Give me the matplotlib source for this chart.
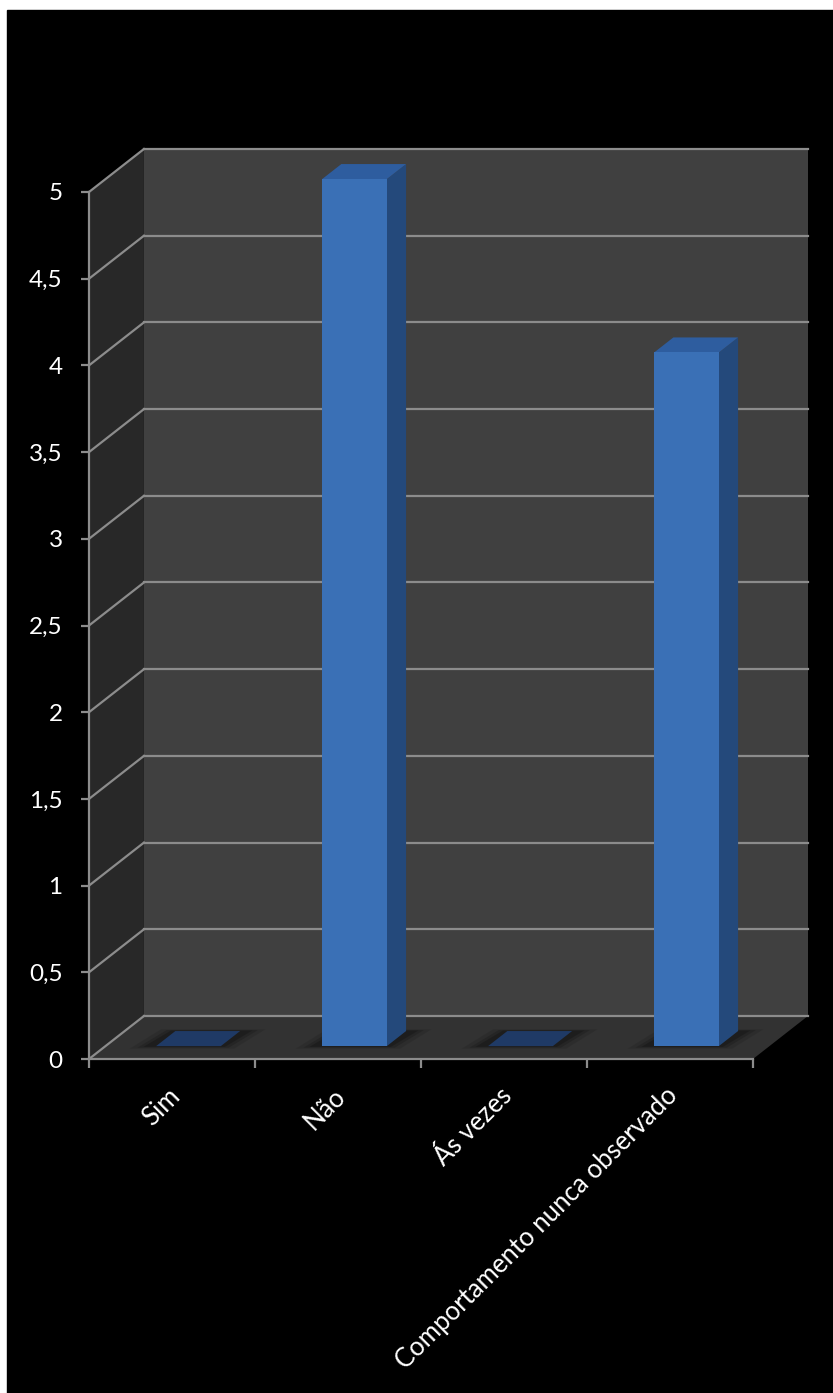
"""3D-style column chart (Excel look) drawn with plain matplotlib patches."""
import matplotlib
matplotlib.use('Agg')
import matplotlib.pyplot as plt
from matplotlib.patches import Polygon, Rectangle
from matplotlib.transforms import offset_copy

plt.rcParams['font.family'] = ['Lato', 'DejaVu Sans']

categories = ['Sim', 'Não', 'Ás vezes', 'Comportamento nunca observado']
values = [0, 5, 0, 4]
y_ticks = [0, 0.5, 1, 1.5, 2, 2.5, 3, 3.5, 4, 4.5, 5]
y_labels = ['0', '0,5', '1', '1,5', '2', '2,5', '3', '3,5', '4', '4,5', '5']

W_PX, H_PX = 833, 1393
DPI = 100

# depth of the 3D box, in data units (x: categories, y: values)
DX, DY = 0.331, 0.248
# bar front/back depth (fraction of box depth) and bar width
F1, F2 = 0.30, 0.65
BW = 0.39

GRID = '#8c8c8c'
BACK, SIDE, FLOOR = '#404040', '#282828', '#323232'
FRONT_C, SIDE_C, TOP_C, FLAT_C = '#3a70b6', '#24497b', '#2e5d9f', '#1f3a66'


def proj(x, y, d):
    return (x + d * DX, y + d * DY)


fig = plt.figure(figsize=(W_PX / DPI, H_PX / DPI), dpi=DPI, facecolor='white')
fig.patches.append(Rectangle((7 / W_PX, 0), 1 - 7 / W_PX, 1 - 10 / H_PX,
                             transform=fig.transFigure, color='black', zorder=-10))

ax = fig.add_axes([89 / W_PX, 1 - 1059 / H_PX, (753 - 89) / W_PX, (1059 - 192) / H_PX])
ax.set_facecolor('none')
ax.set_xlim(0, len(categories))
ax.set_ylim(0, 5)
n = len(categories)
ymax = y_ticks[-1]

# walls and floor
ax.add_patch(Polygon([proj(0, 0, 1), proj(n, 0, 1), proj(n, ymax, 1), proj(0, ymax, 1)],
                     fc=BACK, ec='none', clip_on=False, zorder=1))
ax.add_patch(Polygon([(0, 0), proj(0, 0, 1), proj(0, ymax, 1), (0, ymax)],
                     fc=SIDE, ec='none', clip_on=False, zorder=1))
ax.add_patch(Polygon([(0, 0), (n, 0), proj(n, 0, 1), proj(0, 0, 1)],
                     fc=FLOOR, ec='none', clip_on=False, zorder=1))

# gridlines on back and side walls
for yv in y_ticks:
    bx0, by = proj(0, yv, 1)
    bx1, _ = proj(n, yv, 1)
    ax.plot([bx0, bx1], [by, by], color=GRID, lw=1.6, clip_on=False, zorder=2)
    ax.plot([0, bx0], [yv, by], color=GRID, lw=1.6, clip_on=False, zorder=2)

# bars
for i, v in enumerate(values):
    xc = i + 0.5
    xl, xr = xc - BW / 2, xc + BW / 2
    # soft shadow on the floor
    for k, a in [(0.10, 0.10), (0.06, 0.15), (0.03, 0.2)]:
        ax.add_patch(Polygon([proj(xl - k - 0.04, 0, F1 - k * 0.6), proj(xr + k, 0, F1 - k * 0.6),
                              proj(xr + k + 0.04, 0, F2 + k * 0.4), proj(xl - k, 0, F2 + k * 0.4)],
                             fc='black', ec='none', alpha=a, clip_on=False, zorder=3))
    top = [proj(xl, v, F1), proj(xr, v, F1), proj(xr, v, F2), proj(xl, v, F2)]
    if v == 0:
        ax.add_patch(Polygon(top, fc=FLAT_C, ec='none', clip_on=False, zorder=4))
        continue
    ax.add_patch(Polygon([proj(xr, 0, F1), proj(xr, 0, F2), proj(xr, v, F2), proj(xr, v, F1)],
                         fc=SIDE_C, ec='none', clip_on=False, zorder=4))
    ax.add_patch(Polygon(top, fc=TOP_C, ec='none', clip_on=False, zorder=4))
    ax.add_patch(Polygon([proj(xl, 0, F1), proj(xr, 0, F1), proj(xr, v, F1), proj(xl, v, F1)],
                         fc=FRONT_C, ec='none', clip_on=False, zorder=5))

# axes lines and ticks
for s in ['top', 'right']:
    ax.spines[s].set_visible(False)
for s in ['left', 'bottom']:
    ax.spines[s].set_color(GRID)
    ax.spines[s].set_linewidth(1.6)
    ax.spines[s].set_zorder(6)

ax.set_yticks(y_ticks)
ax.set_yticklabels(y_labels)
ax.tick_params(axis='y', colors=GRID, labelcolor='white', labelsize=17.5,
               length=6, width=1.6, pad=13)
ax.set_xticks(range(n + 1))
ax.set_xticklabels([])
ax.tick_params(axis='x', colors=GRID, length=6.5, width=1.6)

lab_tr = offset_copy(ax.transData, fig=fig, x=4, y=-33, units='dots')
for i, c in enumerate(categories):
    ax.text(i + 0.5, 0, c, transform=lab_tr, rotation=45, rotation_mode='anchor',
            ha='right', va='center', color='white', fontsize=18.5)

fig.savefig('out.png', dpi=DPI, facecolor=fig.get_facecolor())
